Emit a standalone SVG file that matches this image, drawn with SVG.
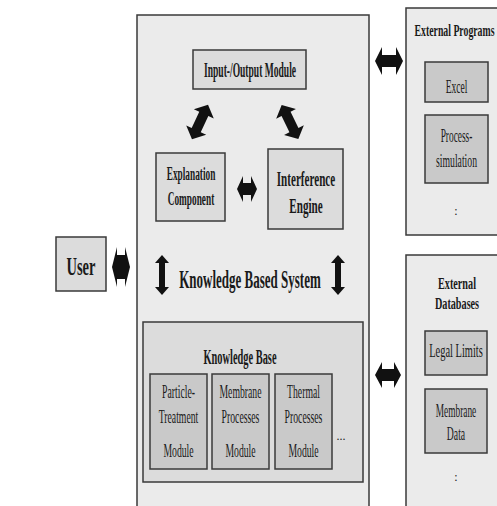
<svg xmlns="http://www.w3.org/2000/svg" width="497" height="506" viewBox="0 0 497 506">
<style>
.box{stroke:#3a3a3a;stroke-width:1.5}
.outer{fill:#ebebeb}
.mid{fill:#dcdcdc}
.dark{fill:#c9c9c9}
.t{font-family:"Liberation Serif","Times New Roman",serif;fill:#1a1a1a;text-anchor:middle}
.b{font-weight:bold}
.m{font-size:18px}
.arr{fill:#111}
</style>
<rect width="497" height="506" fill="#fff"/>
<g id="kbs">
<rect class="box outer" x="137" y="15" width="232" height="495"/>
<text class="t b" font-size="26" transform="translate(250,288) scale(0.5,1)">Knowledge Based System</text>
</g>
<g id="io">
<rect class="box mid" x="193" y="50" width="113" height="39"/>
<text class="t b" font-size="21" transform="translate(250,77) scale(0.455,1)">Input-/Output Module</text>
</g>
<g id="explanation">
<rect class="box mid" x="156" y="153" width="69" height="68"/>
<text class="t b" font-size="19" transform="translate(191,180) scale(0.49,1)">Explanation</text>
<text class="t b" font-size="19" transform="translate(191,205) scale(0.49,1)">Component</text>
</g>
<g id="engine">
<rect class="box mid" x="268" y="149" width="75" height="80"/>
<text class="t b" font-size="21" transform="translate(306,186) scale(0.53,1)">Interference</text>
<text class="t b" font-size="21" transform="translate(306,213) scale(0.53,1)">Engine</text>
</g>
<g id="kb">
<rect class="box mid" x="143" y="322" width="220" height="160"/>
<text class="t b" font-size="20" transform="translate(240,364) scale(0.52,1)">Knowledge Base</text>
<text class="t" x="341" y="440" font-size="12">...</text>
</g>
<g id="particle">
<rect class="box dark" x="150" y="374" width="57" height="95"/>
<text class="t m" transform="translate(178.5,398) scale(0.54,1)">Particle-</text>
<text class="t m" transform="translate(178.5,423) scale(0.54,1)">Treatment</text>
<text class="t m" transform="translate(178.5,457) scale(0.54,1)">Module</text>
</g>
<g id="membrane">
<rect class="box dark" x="212" y="374" width="57" height="95"/>
<text class="t m" transform="translate(240.5,398) scale(0.54,1)">Membrane</text>
<text class="t m" transform="translate(240.5,423) scale(0.54,1)">Processes</text>
<text class="t m" transform="translate(240.5,457) scale(0.54,1)">Module</text>
</g>
<g id="thermal">
<rect class="box dark" x="275" y="374" width="57" height="95"/>
<text class="t m" transform="translate(303.5,398) scale(0.54,1)">Thermal</text>
<text class="t m" transform="translate(303.5,423) scale(0.54,1)">Processes</text>
<text class="t m" transform="translate(303.5,457) scale(0.54,1)">Module</text>
</g>
<g id="user">
<rect class="box mid" x="56" y="237" width="50" height="54"/>
<text class="t b" font-size="25" transform="translate(81,275) scale(0.58,1)">User</text>
</g>
<g id="extprograms">
<rect class="box outer" x="406" y="8" width="100" height="227"/>
<text class="t b" font-size="17" transform="translate(454.5,36) scale(0.575,1)">External Programs</text>
<text class="t" x="456" y="215" font-size="12">:</text>
</g>
<g id="excel">
<rect class="box dark" x="425" y="62" width="63" height="40"/>
<text class="t m" transform="translate(456.5,93) scale(0.53,1)">Excel</text>
</g>
<g id="procsim">
<rect class="box dark" x="425" y="115" width="63" height="68"/>
<text class="t m" transform="translate(456.5,142) scale(0.52,1)">Process-</text>
<text class="t m" transform="translate(456.5,167) scale(0.54,1)">simulation</text>
</g>
<g id="extdb">
<rect class="box outer" x="406" y="255" width="100" height="260"/>
<text class="t b" font-size="17" transform="translate(457,289) scale(0.6,1)">External</text>
<text class="t b" font-size="17" transform="translate(457,309) scale(0.6,1)">Databases</text>
<text class="t" x="456" y="481" font-size="12">:</text>
</g>
<g id="legal">
<rect class="box dark" x="425" y="331" width="62" height="44"/>
<text class="t m" transform="translate(456,357) scale(0.58,1)">Legal Limits</text>
</g>
<g id="membranedata">
<rect class="box dark" x="425" y="389" width="62" height="64"/>
<text class="t m" transform="translate(456,417) scale(0.52,1)">Membrane</text>
<text class="t m" transform="translate(456,440) scale(0.54,1)">Data</text>
</g>
<g id="connectors">
<polygon class="arr" transform="translate(247,189)" points="-10,0 -4,-13 -4,-6 4,-6 4,-13 10,0 4,13 4,6 -4,6 -4,13"/>
<polygon class="arr" transform="translate(389,61)" points="-14,0 -7,-14 -7,-6 7,-6 7,-14 14,0 7,14 7,6 -7,6 -7,14"/>
<polygon class="arr" transform="translate(388,375)" points="-13,0 -6,-13 -6,-6 6,-6 6,-13 13,0 6,13 6,6 -6,6 -6,13"/>
<polygon class="arr" transform="translate(121,267)" points="-9,0 -4,-20 -4,-12 4,-12 4,-20 9,0 4,20 4,12 -4,12 -4,20"/>
<polygon class="arr" transform="translate(162,275) rotate(90)" points="-20,0 -12,-7 -12,-3 12,-3 12,-7 20,0 12,7 12,3 -12,3 -12,7"/>
<polygon class="arr" transform="translate(338,275) rotate(90)" points="-20,0 -12,-7 -12,-3 12,-3 12,-7 20,0 12,7 12,3 -12,3 -12,7"/>
<polygon class="arr" transform="translate(200,122) rotate(-65)" points="-19,0 -9,-11 -9,-5 9,-5 9,-11 19,0 9,11 9,5 -9,5 -9,11"/>
<polygon class="arr" transform="translate(290,122) rotate(64)" points="-19,0 -9,-11 -9,-5 9,-5 9,-11 19,0 9,11 9,5 -9,5 -9,11"/>
</g>
</svg>
